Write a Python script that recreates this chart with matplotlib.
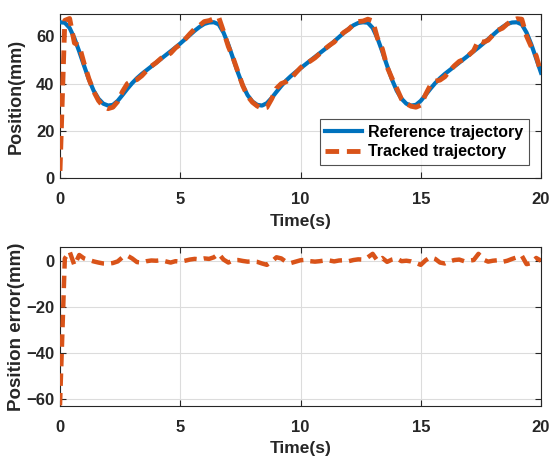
import numpy as np
import matplotlib.pyplot as plt

plt.rcParams['font.family'] = ['Liberation Sans', 'DejaVu Sans']
plt.rcParams['font.weight'] = 'bold'

# sample times (s), every 0.2 s from 0 to 20
t = np.arange(101) * 0.2

# reference position (mm)
ref = np.array([
    66.0, 65.8, 63.6, 59.2, 53.6, 47.6, 41.8, 37.0, 33.6, 31.5,
    30.7, 31.0, 32.7, 35.2, 37.8, 40.2, 42.3, 44.1, 45.7, 47.3,
    48.9, 50.5, 52.1, 53.7, 55.3, 57.0, 58.8, 60.6, 62.4, 64.0,
    65.3, 65.9,
    66.0, 65.1, 61.6, 56.5, 50.6, 44.6, 39.2, 35.1, 32.4, 31.0,
    30.7, 31.7, 33.9, 36.5, 39.0, 41.3, 43.2, 44.9, 46.5, 48.1,
    49.7, 51.3, 52.9, 54.5, 56.1, 57.9, 59.7, 61.5, 63.2, 64.7,
    65.7, 66.0,
    65.8, 63.6, 59.2, 53.6, 47.6, 41.8, 37.0, 33.6, 31.5, 30.7,
    31.0, 32.7, 35.2, 37.8, 40.2, 42.3, 44.1, 45.7, 47.3, 48.9,
    50.5, 52.1, 53.7, 55.3, 57.0, 58.8, 60.6, 62.4, 64.0, 65.3,
    65.9,
    66.0, 65.1, 61.6, 56.5, 50.6, 44.6,
])

# tracking error (mm)
err = np.array([
    -63.0, 1.0, 4.0, -2.0, 2.5, 1.0, 0.3, -0.3, -0.8, -1.2,
    -1.3, -1.0, -0.3, 1.5, 2.2, 1.0, -0.6, -0.8, -0.2, 0.1,
    0.0, 0.2, -0.3, -0.8, -0.2, -0.4, 0.0, 0.5, 0.8, 0.6,
    1.0, 0.8, 1.5, 3.0, 0.5, -0.8, 0.2, 0.3, -0.1, -0.4,
    -0.3, -0.5, -1.2, -1.8, -0.4, 1.5, 1.0, -0.5, -1.0, -0.4,
    0.2, 0.4, -0.2, -0.4, -0.2, 0.1, 0.1, -0.3, 0.1, 0.2,
    -0.2, 0.3, 0.6, 0.5, 1.5, 3.0, 0.0, 1.2, -0.5, 0.5,
    1.0, -0.2, 0.0, -0.3, -1.0, -1.8, 0.2, 1.5, 0.8, -0.8,
    -1.2, -0.3, 0.3, 0.5, -0.2, 0.0, 0.3, 3.0, 0.5, -0.4,
    0.0, 0.2, -0.5, 0.0, 0.8, 1.5, 2.2, -1.5, -1.0, 1.2,
    0.0,
])

tracked = ref + err

blue = '#0072BD'
orange = '#D95319'
txt = '#262626'

fig = plt.figure(figsize=(5.52, 4.62), dpi=100)
ax1 = fig.add_axes([0.1087, 0.6147, 0.8714, 0.355])
ax2 = fig.add_axes([0.1087, 0.122, 0.8714, 0.343])

ax1.plot(t, ref, color=blue, lw=3, label='Reference trajectory', zorder=3)
ax1.plot(t, tracked, color=orange, lw=3.5, dashes=(2.8, 1.6),
         label='Tracked trajectory', zorder=4)
ax1.set_ylim(0, 69.5)
ax1.set_yticks([0, 20, 40, 60])
ax1.set_ylabel('Position(mm)', fontsize=13, fontweight='bold', color=txt)
leg = ax1.legend(loc='lower right', bbox_to_anchor=(0.975, 0.08),
                 borderaxespad=0, fontsize=11.5, frameon=True,
                 fancybox=False, handlelength=2.3, borderpad=0.35,
                 labelspacing=0.3, handletextpad=0.4)
leg.get_frame().set_edgecolor('#262626')
leg.get_frame().set_linewidth(0.8)
for text in leg.get_texts():
    text.set_color('black')

ax2.plot(t, err, color=orange, lw=3.2, dashes=(2.8, 1.6), zorder=3)
ax2.set_ylim(-63.1, 5.9)
ax2.set_yticks([-60, -40, -20, 0])
ax2.set_ylabel('Position error(mm)', fontsize=13.5, fontweight='bold',
               color=txt)

for ax in (ax1, ax2):
    ax.set_xlim(0, 20)
    ax.set_xticks([0, 5, 10, 15, 20])
    ax.set_xlabel('Time(s)', fontsize=12.5, fontweight='bold', color=txt,
                  labelpad=5)
    ax.grid(True, color='#dcdcdc', lw=0.8)
    ax.set_axisbelow(True)
    ax.tick_params(direction='in', top=True, right=True, length=4,
                   width=0.8, labelsize=12, colors='#262626', pad=4)
    ax.tick_params(axis='x', pad=10)
    for lab in ax.get_xticklabels() + ax.get_yticklabels():
        lab.set_fontweight('bold')
    for sp in ax.spines.values():
        sp.set_color('#262626')
        sp.set_linewidth(0.8)
    ax.yaxis.set_label_coords(-0.073, 0.5)

fig.savefig('out.png', dpi=100)
